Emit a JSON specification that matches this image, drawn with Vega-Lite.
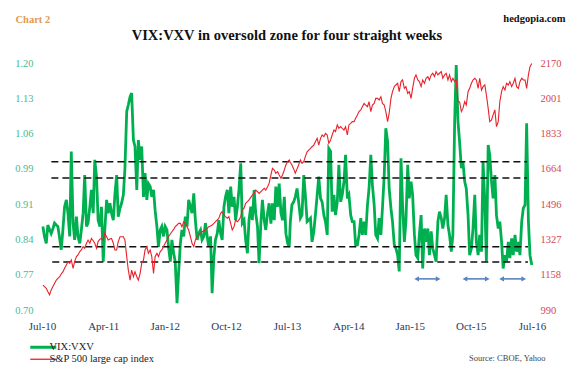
{
  "$schema": "https://vega.github.io/schema/vega-lite/v6.json",
  "width": 490,
  "height": 247,
  "autosize": {"type": "none"},
  "padding": {"left": 42, "top": 63, "right": 46, "bottom": 63},
  "background": "white",
  "title": {"text": "VIX:VXV in oversold zone for four straight weeks", "font": "Liberation Serif", "fontSize": 14.5, "fontWeight": "bold", "color": "#111111", "anchor": "middle", "offset": -30},
  "config": {"view": {"stroke": null}, "axis": {"labelOverlap": false}, "axisY": {"labelOverlap": false}, "axisLeft": {"labelOverlap": false}},
  "datasets": {
    "weekly": [
      {"date":"2010-07-05","vix":0.869,"spx":1109},{"date":"2010-07-12","vix":0.849,"spx":1102},{"date":"2010-07-20","vix":0.835,"spx":1094},{"date":"2010-07-27","vix":0.872,"spx":1078},{"date":"2010-08-04","vix":0.863,"spx":1062},{"date":"2010-08-11","vix":0.855,"spx":1086},{"date":"2010-08-19","vix":0.865,"spx":1102},{"date":"2010-08-26","vix":0.876,"spx":1117},{"date":"2010-09-03","vix":0.872,"spx":1133},{"date":"2010-09-10","vix":0.869,"spx":1141},
      {"date":"2010-09-18","vix":0.845,"spx":1149},{"date":"2010-09-25","vix":0.822,"spx":1162},{"date":"2010-10-03","vix":0.865,"spx":1173},{"date":"2010-10-10","vix":0.909,"spx":1189},{"date":"2010-10-18","vix":0.923,"spx":1205},{"date":"2010-10-25","vix":0.896,"spx":1221},{"date":"2010-11-02","vix":0.849,"spx":1213},{"date":"2010-11-09","vix":1.021,"spx":1229},{"date":"2010-11-17","vix":0.876,"spx":1189},{"date":"2010-11-24","vix":0.842,"spx":1221},
      {"date":"2010-12-02","vix":0.889,"spx":1245},{"date":"2010-12-09","vix":0.849,"spx":1253},{"date":"2010-12-17","vix":0.835,"spx":1269},{"date":"2010-12-24","vix":0.862,"spx":1277},{"date":"2011-01-01","vix":0.896,"spx":1293},{"date":"2011-01-08","vix":0.973,"spx":1285},{"date":"2011-01-16","vix":0.869,"spx":1309},{"date":"2011-01-23","vix":0.876,"spx":1324},{"date":"2011-01-31","vix":0.909,"spx":1309},{"date":"2011-02-07","vix":0.943,"spx":1332},
      {"date":"2011-02-15","vix":0.896,"spx":1321},{"date":"2011-02-22","vix":1.004,"spx":1309},{"date":"2011-03-02","vix":0.970,"spx":1285},{"date":"2011-03-09","vix":0.882,"spx":1317},{"date":"2011-03-17","vix":0.869,"spx":1328},{"date":"2011-03-24","vix":0.909,"spx":1332},{"date":"2011-04-01","vix":0.798,"spx":1324},{"date":"2011-04-08","vix":0.862,"spx":1356},{"date":"2011-04-16","vix":0.923,"spx":1340},{"date":"2011-04-23","vix":0.896,"spx":1324},
      {"date":"2011-05-01","vix":0.916,"spx":1329},{"date":"2011-05-08","vix":0.896,"spx":1332},{"date":"2011-05-16","vix":0.882,"spx":1309},{"date":"2011-05-23","vix":0.933,"spx":1277},{"date":"2011-05-31","vix":0.973,"spx":1277},{"date":"2011-06-07","vix":0.889,"spx":1317},{"date":"2011-06-15","vix":0.906,"spx":1340},{"date":"2011-06-22","vix":0.916,"spx":1340},{"date":"2011-06-30","vix":0.933,"spx":1340},{"date":"2011-07-07","vix":0.987,"spx":1324},
      {"date":"2011-07-15","vix":1.102,"spx":1245},{"date":"2011-07-22","vix":1.115,"spx":1181},{"date":"2011-07-30","vix":1.132,"spx":1133},{"date":"2011-08-06","vix":1.139,"spx":1181},{"date":"2011-08-14","vix":1.044,"spx":1149},{"date":"2011-08-21","vix":1.031,"spx":1173},{"date":"2011-08-29","vix":0.943,"spx":1149},{"date":"2011-09-05","vix":1.044,"spx":1133},{"date":"2011-09-13","vix":1.004,"spx":1165},{"date":"2011-09-20","vix":1.031,"spx":1213},
      {"date":"2011-09-28","vix":0.929,"spx":1229},{"date":"2011-10-05","vix":0.977,"spx":1277},{"date":"2011-10-13","vix":0.923,"spx":1293},{"date":"2011-10-20","vix":0.956,"spx":1261},{"date":"2011-10-28","vix":0.950,"spx":1277},{"date":"2011-11-04","vix":0.929,"spx":1245},{"date":"2011-11-12","vix":0.943,"spx":1165},{"date":"2011-11-19","vix":0.902,"spx":1245},{"date":"2011-11-27","vix":0.869,"spx":1261},{"date":"2011-12-04","vix":0.828,"spx":1245},
      {"date":"2011-12-12","vix":0.862,"spx":1269},{"date":"2011-12-19","vix":0.869,"spx":1277},{"date":"2011-12-27","vix":0.849,"spx":1293},{"date":"2012-01-03","vix":0.869,"spx":1309},{"date":"2012-01-11","vix":0.862,"spx":1324},{"date":"2012-01-18","vix":0.828,"spx":1340},{"date":"2012-01-26","vix":0.798,"spx":1353},{"date":"2012-02-02","vix":0.842,"spx":1364},{"date":"2012-02-10","vix":0.815,"spx":1375},{"date":"2012-02-17","vix":0.798,"spx":1388},
      {"date":"2012-02-25","vix":0.714,"spx":1396},{"date":"2012-03-03","vix":0.774,"spx":1404},{"date":"2012-03-11","vix":0.835,"spx":1404},{"date":"2012-03-18","vix":0.862,"spx":1388},{"date":"2012-03-26","vix":0.849,"spx":1412},{"date":"2012-04-02","vix":0.889,"spx":1404},{"date":"2012-04-10","vix":0.869,"spx":1388},{"date":"2012-04-17","vix":0.923,"spx":1372},{"date":"2012-04-25","vix":0.909,"spx":1340},{"date":"2012-05-02","vix":0.896,"spx":1309},
      {"date":"2012-05-10","vix":0.936,"spx":1293},{"date":"2012-05-17","vix":0.882,"spx":1324},{"date":"2012-05-25","vix":0.842,"spx":1340},{"date":"2012-06-01","vix":0.855,"spx":1348},{"date":"2012-06-09","vix":0.862,"spx":1356},{"date":"2012-06-16","vix":0.842,"spx":1364},{"date":"2012-06-24","vix":0.849,"spx":1369},{"date":"2012-07-01","vix":0.876,"spx":1372},{"date":"2012-07-09","vix":0.849,"spx":1380},{"date":"2012-07-16","vix":0.828,"spx":1388},
      {"date":"2012-07-24","vix":0.849,"spx":1391},{"date":"2012-07-31","vix":0.734,"spx":1396},{"date":"2012-08-08","vix":0.808,"spx":1404},{"date":"2012-08-15","vix":0.842,"spx":1412},{"date":"2012-08-23","vix":0.855,"spx":1420},{"date":"2012-08-30","vix":0.882,"spx":1428},{"date":"2012-09-07","vix":0.855,"spx":1452},{"date":"2012-09-14","vix":0.842,"spx":1460},{"date":"2012-09-22","vix":0.909,"spx":1444},{"date":"2012-09-29","vix":0.929,"spx":1436},
      {"date":"2012-10-07","vix":0.943,"spx":1428},{"date":"2012-10-14","vix":0.896,"spx":1436},{"date":"2012-10-22","vix":0.950,"spx":1404},{"date":"2012-10-29","vix":0.909,"spx":1372},{"date":"2012-11-06","vix":0.929,"spx":1388},{"date":"2012-11-13","vix":0.882,"spx":1420},{"date":"2012-11-21","vix":0.909,"spx":1412},{"date":"2012-11-28","vix":0.943,"spx":1420},{"date":"2012-12-06","vix":0.997,"spx":1436},{"date":"2012-12-13","vix":0.876,"spx":1468},
      {"date":"2012-12-21","vix":0.882,"spx":1476},{"date":"2012-12-28","vix":0.842,"spx":1500},{"date":"2013-01-05","vix":0.815,"spx":1508},{"date":"2013-01-12","vix":0.882,"spx":1516},{"date":"2013-01-20","vix":0.909,"spx":1528},{"date":"2013-01-27","vix":0.882,"spx":1539},{"date":"2013-02-04","vix":0.943,"spx":1547},{"date":"2013-02-11","vix":0.896,"spx":1563},{"date":"2013-02-19","vix":0.869,"spx":1555},{"date":"2013-02-26","vix":0.795,"spx":1547},
      {"date":"2013-03-06","vix":0.875,"spx":1555},{"date":"2013-03-13","vix":0.923,"spx":1563},{"date":"2013-03-21","vix":0.882,"spx":1571},{"date":"2013-03-28","vix":0.862,"spx":1563},{"date":"2013-04-05","vix":0.896,"spx":1579},{"date":"2013-04-12","vix":0.916,"spx":1595},{"date":"2013-04-20","vix":0.875,"spx":1635},{"date":"2013-04-27","vix":0.916,"spx":1667},{"date":"2013-05-05","vix":0.882,"spx":1659},{"date":"2013-05-12","vix":0.950,"spx":1643},
      {"date":"2013-05-20","vix":0.909,"spx":1651},{"date":"2013-05-27","vix":0.956,"spx":1635},{"date":"2013-06-04","vix":0.896,"spx":1619},{"date":"2013-06-11","vix":0.882,"spx":1635},{"date":"2013-06-19","vix":0.929,"spx":1659},{"date":"2013-06-26","vix":0.855,"spx":1683},{"date":"2013-07-04","vix":0.835,"spx":1699},{"date":"2013-07-11","vix":0.828,"spx":1707},
      {"date":"2013-07-16","vix":0.879,"spx":1695},{"date":"2013-07-23","vix":0.913,"spx":1683},{"date":"2013-07-31","vix":0.919,"spx":1664},{"date":"2013-08-07","vix":0.929,"spx":1643},{"date":"2013-08-15","vix":0.946,"spx":1664},{"date":"2013-08-22","vix":0.919,"spx":1683},{"date":"2013-08-30","vix":0.886,"spx":1707},{"date":"2013-09-06","vix":0.892,"spx":1691},{"date":"2013-09-14","vix":0.973,"spx":1699},{"date":"2013-09-21","vix":0.933,"spx":1723},
      {"date":"2013-09-29","vix":0.879,"spx":1746},{"date":"2013-10-06","vix":0.882,"spx":1754},{"date":"2013-10-14","vix":0.886,"spx":1762},{"date":"2013-10-21","vix":0.838,"spx":1770},{"date":"2013-10-29","vix":0.859,"spx":1778},{"date":"2013-11-05","vix":0.892,"spx":1794},{"date":"2013-11-13","vix":0.933,"spx":1810},{"date":"2013-11-20","vix":0.970,"spx":1778},{"date":"2013-11-28","vix":0.926,"spx":1810},{"date":"2013-12-05","vix":0.919,"spx":1826},
      {"date":"2013-12-13","vix":0.892,"spx":1818},{"date":"2013-12-20","vix":0.879,"spx":1834},{"date":"2013-12-28","vix":0.852,"spx":1826},{"date":"2014-01-04","vix":1.027,"spx":1786},{"date":"2014-01-12","vix":1.021,"spx":1802},{"date":"2014-01-19","vix":0.899,"spx":1826},{"date":"2014-01-27","vix":0.933,"spx":1850},{"date":"2014-02-03","vix":0.892,"spx":1842},{"date":"2014-02-11","vix":0.919,"spx":1874},{"date":"2014-02-18","vix":0.994,"spx":1858},
      {"date":"2014-02-26","vix":0.919,"spx":1866},{"date":"2014-03-05","vix":0.933,"spx":1858},{"date":"2014-03-13","vix":0.960,"spx":1850},{"date":"2014-03-20","vix":1.014,"spx":1866},{"date":"2014-03-28","vix":0.926,"spx":1826},{"date":"2014-04-04","vix":0.933,"spx":1874},{"date":"2014-04-12","vix":0.892,"spx":1882},{"date":"2014-04-19","vix":0.879,"spx":1890},{"date":"2014-04-27","vix":0.879,"spx":1890},{"date":"2014-05-04","vix":0.832,"spx":1906},
      {"date":"2014-05-12","vix":0.832,"spx":1922},{"date":"2014-05-19","vix":0.852,"spx":1938},{"date":"2014-05-27","vix":0.886,"spx":1946},{"date":"2014-06-03","vix":0.852,"spx":1961},{"date":"2014-06-11","vix":0.879,"spx":1977},{"date":"2014-06-18","vix":0.852,"spx":1969},{"date":"2014-06-26","vix":0.913,"spx":1961},{"date":"2014-07-03","vix":0.946,"spx":1985},{"date":"2014-07-11","vix":1.014,"spx":1938},{"date":"2014-07-18","vix":0.953,"spx":1969},
      {"date":"2014-07-26","vix":0.913,"spx":1977},{"date":"2014-08-02","vix":0.852,"spx":2001},{"date":"2014-08-10","vix":0.845,"spx":2001},{"date":"2014-08-17","vix":0.886,"spx":1993},{"date":"2014-08-25","vix":0.852,"spx":2009},{"date":"2014-09-01","vix":0.906,"spx":1977},{"date":"2014-09-09","vix":0.973,"spx":1969},{"date":"2014-09-16","vix":1.068,"spx":1938},{"date":"2014-09-24","vix":1.041,"spx":1890},{"date":"2014-10-01","vix":0.946,"spx":1930},
      {"date":"2014-10-09","vix":0.906,"spx":2001},{"date":"2014-10-16","vix":0.879,"spx":2033},{"date":"2014-10-24","vix":0.832,"spx":2057},{"date":"2014-10-31","vix":0.825,"spx":2065},{"date":"2014-11-08","vix":0.811,"spx":2073},{"date":"2014-11-15","vix":0.778,"spx":2033},{"date":"2014-11-23","vix":1.007,"spx":2081},{"date":"2014-11-30","vix":0.913,"spx":2089},{"date":"2014-12-08","vix":0.838,"spx":2049},{"date":"2014-12-15","vix":0.879,"spx":2057},
      {"date":"2014-12-23","vix":0.994,"spx":2025},{"date":"2014-12-30","vix":0.926,"spx":2033},{"date":"2015-01-07","vix":0.960,"spx":2001},{"date":"2015-01-14","vix":0.933,"spx":2049},{"date":"2015-01-22","vix":0.852,"spx":2097},{"date":"2015-01-29","vix":0.811,"spx":2113},{"date":"2015-02-06","vix":0.805,"spx":2089},{"date":"2015-02-13","vix":0.852,"spx":2081},{"date":"2015-02-21","vix":0.892,"spx":2057},{"date":"2015-02-28","vix":0.784,"spx":2089},
      {"date":"2015-03-08","vix":0.865,"spx":2073},{"date":"2015-03-15","vix":0.838,"spx":2097},{"date":"2015-03-23","vix":0.865,"spx":2105},{"date":"2015-03-30","vix":0.811,"spx":2089},{"date":"2015-04-07","vix":0.859,"spx":2113},{"date":"2015-04-14","vix":0.825,"spx":2121},{"date":"2015-04-22","vix":0.811,"spx":2105},{"date":"2015-04-29","vix":0.798,"spx":2129},{"date":"2015-05-07","vix":0.879,"spx":2113},{"date":"2015-05-14","vix":0.899,"spx":2121},
      {"date":"2015-05-22","vix":0.886,"spx":2129},{"date":"2015-05-29","vix":0.865,"spx":2097},{"date":"2015-06-06","vix":0.886,"spx":2113},{"date":"2015-06-13","vix":0.933,"spx":2121},{"date":"2015-06-21","vix":0.872,"spx":2089},{"date":"2015-06-28","vix":0.852,"spx":2113},{"date":"2015-07-06","vix":0.818,"spx":2081},{"date":"2015-07-13","vix":0.852,"spx":2097},{"date":"2015-07-21","vix":1.081,"spx":2081},{"date":"2015-07-28","vix":1.196,"spx":2089},
      {"date":"2015-08-05","vix":1.081,"spx":1985},{"date":"2015-08-12","vix":1.041,"spx":1985},{"date":"2015-08-20","vix":0.987,"spx":1938},{"date":"2015-08-27","vix":1.000,"spx":1953},{"date":"2015-09-04","vix":0.960,"spx":1985},{"date":"2015-09-11","vix":0.946,"spx":1969},{"date":"2015-09-19","vix":0.892,"spx":2033},{"date":"2015-09-26","vix":0.811,"spx":2049},{"date":"2015-10-04","vix":0.825,"spx":2073},{"date":"2015-10-11","vix":0.865,"spx":2089},
      {"date":"2015-10-19","vix":0.933,"spx":2097},{"date":"2015-10-26","vix":0.838,"spx":2089},{"date":"2015-11-03","vix":0.811,"spx":2049},{"date":"2015-11-10","vix":0.852,"spx":2097},{"date":"2015-11-18","vix":0.818,"spx":2041},{"date":"2015-11-25","vix":1.000,"spx":2057},{"date":"2015-12-03","vix":0.919,"spx":2065},{"date":"2015-12-10","vix":0.798,"spx":2017},{"date":"2015-12-18","vix":1.034,"spx":1953},{"date":"2015-12-25","vix":1.014,"spx":1890},
      {"date":"2016-01-02","vix":0.960,"spx":1898},{"date":"2016-01-09","vix":0.926,"spx":1922},{"date":"2016-01-17","vix":0.973,"spx":1946},{"date":"2016-01-24","vix":0.892,"spx":1866},{"date":"2016-02-01","vix":0.865,"spx":1890},{"date":"2016-02-08","vix":0.879,"spx":1985},{"date":"2016-02-16","vix":0.838,"spx":2033},{"date":"2016-02-23","vix":0.784,"spx":2057},{"date":"2016-03-02","vix":0.811,"spx":2041},{"date":"2016-03-09","vix":0.798,"spx":2073},
      {"date":"2016-03-17","vix":0.838,"spx":2065},{"date":"2016-03-24","vix":0.805,"spx":2081},{"date":"2016-04-01","vix":0.845,"spx":2057},{"date":"2016-04-08","vix":0.811,"spx":2073},{"date":"2016-04-16","vix":0.852,"spx":2097},{"date":"2016-04-23","vix":0.818,"spx":2057},{"date":"2016-05-01","vix":0.838,"spx":2049},{"date":"2016-05-08","vix":0.811,"spx":2081},{"date":"2016-05-16","vix":0.879,"spx":2097},{"date":"2016-05-23","vix":0.906,"spx":2089},
      {"date":"2016-05-31","vix":0.913,"spx":2089},{"date":"2016-06-07","vix":1.078,"spx":2049},{"date":"2016-06-15","vix":0.879,"spx":2113},{"date":"2016-06-22","vix":0.811,"spx":2152},{"date":"2016-06-30","vix":0.791,"spx":2168}
    ],
    "levels": [
      {"start":"2010-08-12","end":"2016-06-08","level":1.0},
      {"start":"2010-08-12","end":"2016-06-08","level":0.967},
      {"start":"2010-08-16","end":"2016-06-13","level":0.828},
      {"start":"2010-08-16","end":"2016-06-13","level":0.797}
    ],
    "spans": [
      {"start":"2015-02-01","end":"2015-05-08","y":0.763},
      {"start":"2015-09-05","end":"2015-12-14","y":0.763},
      {"start":"2016-02-16","end":"2016-05-25","y":0.763}
    ]
  },
  "layer": [
    {
      "layer": [
        {
          "data": {"name": "weekly"},
          "mark": {"type": "line", "strokeWidth": 2.8, "interpolate": "linear"},
          "encoding": {
            "x": {"field": "date", "type": "temporal",
                  "scale": {"type": "utc", "domain": [{"year": 2010, "month": 7, "date": 1, "utc": true}, {"year": 2016, "month": 7, "date": 1, "utc": true}]},
                  "axis": {"values": [
                    {"year": 2010, "month": 7, "date": 1, "utc": true},
                    {"year": 2011, "month": 4, "date": 1, "utc": true},
                    {"year": 2012, "month": 1, "date": 1, "utc": true},
                    {"year": 2012, "month": 10, "date": 1, "utc": true},
                    {"year": 2013, "month": 7, "date": 1, "utc": true},
                    {"year": 2014, "month": 4, "date": 1, "utc": true},
                    {"year": 2015, "month": 1, "date": 1, "utc": true},
                    {"year": 2015, "month": 10, "date": 1, "utc": true},
                    {"year": 2016, "month": 7, "date": 1, "utc": true}],
                    "format": "%b-%y", "labelFont": "Liberation Serif", "labelFontSize": 11, "labelColor": "#2c3a55",
                    "labelFlush": false, "labelOverlap": false, "ticks": false, "domain": false, "grid": false, "labelPadding": 10,
                    "title": "Source: CBOE, Yahoo", "titleFont": "Liberation Serif", "titleFontSize": 8.5, "titleFontWeight": "normal",
                    "titleColor": "#444444", "titleAnchor": null, "titleX": 503, "titleY": 47, "titleAlign": "right", "titleBaseline": "middle"}},
            "y": {"field": "vix", "type": "quantitative",
                  "scale": {"domain": [0.7, 1.2], "nice": false, "zero": false},
                  "axis": {"values": [0.7, 0.7714286, 0.8428571, 0.9142857, 0.9857143, 1.0571429, 1.1285714, 1.2],
                    "format": ".2f", "labelFont": "Liberation Serif", "labelFontSize": 10.5, "labelColor": "#4db892",
                    "labelOverlap": false, "labelBound": false,
                    "ticks": false, "domain": false, "grid": false, "labelPadding": 9,
                    "title": "Chart 2", "titleFont": "Liberation Serif", "titleFontSize": 10.5, "titleFontWeight": "bold",
                    "titleColor": "#e39a52", "titleAngle": 0, "titleX": -27, "titleY": -44, "titleAlign": "left", "titleBaseline": "middle"}},
            "color": {"datum": "VIX:VXV", "type": "nominal",
                      "scale": {"domain": ["VIX:VXV", "S&P 500 large cap index"], "range": ["#00b050", "#e8212b"]},
                      "legend": {"orient": "none", "legendX": -4, "legendY": 279, "title": null, "symbolType": "stroke",
                                 "symbolSize": 676, "symbolStrokeWidth": 2, "labelFont": "Liberation Serif", "labelFontSize": 10.5,
                                 "labelColor": "#222222", "labelOffset": 1, "rowPadding": 0, "labelLimit": 300,
                                 "encode": {"symbols": {"update": {"strokeWidth": {"signal": "datum.value === 'VIX:VXV' ? 3 : 1.3"}}}}}}
          }
        },
        {
          "data": {"name": "levels"},
          "mark": {"type": "rule", "color": "#111111", "strokeWidth": 1.5, "strokeDash": [7, 4]},
          "encoding": {
            "x": {"field": "start", "type": "temporal", "scale": {"type": "utc", "domain": [{"year": 2010, "month": 7, "date": 1, "utc": true}, {"year": 2016, "month": 7, "date": 1, "utc": true}]}},
            "x2": {"field": "end"},
            "y": {"field": "level", "type": "quantitative", "scale": {"domain": [0.7, 1.2], "nice": false, "zero": false},
                  "axis": {"values": [0.7, 0.7714286, 0.8428571, 0.9142857, 0.9857143, 1.0571429, 1.1285714, 1.2],
                    "format": ".2f", "labelFont": "Liberation Serif", "labelFontSize": 10.5, "labelColor": "#4db892",
                    "labelOverlap": false, "labelBound": false,
                    "ticks": false, "domain": false, "grid": false, "labelPadding": 9,
                    "title": "Chart 2", "titleFont": "Liberation Serif", "titleFontSize": 10.5, "titleFontWeight": "bold",
                    "titleColor": "#e39a52", "titleAngle": 0, "titleX": -27, "titleY": -44, "titleAlign": "left", "titleBaseline": "middle"}}
          }
        },
        {
          "data": {"name": "spans"},
          "mark": {"type": "rule", "color": "#5a84bf", "strokeWidth": 1.6},
          "encoding": {
            "x": {"field": "start", "type": "temporal", "scale": {"type": "utc", "domain": [{"year": 2010, "month": 7, "date": 1, "utc": true}, {"year": 2016, "month": 7, "date": 1, "utc": true}]}},
            "x2": {"field": "end"},
            "y": {"field": "y", "type": "quantitative", "scale": {"domain": [0.7, 1.2], "nice": false, "zero": false},
                  "axis": {"values": [0.7, 0.7714286, 0.8428571, 0.9142857, 0.9857143, 1.0571429, 1.1285714, 1.2],
                    "format": ".2f", "labelFont": "Liberation Serif", "labelFontSize": 10.5, "labelColor": "#4db892",
                    "labelOverlap": false, "labelBound": false,
                    "ticks": false, "domain": false, "grid": false, "labelPadding": 9,
                    "title": "Chart 2", "titleFont": "Liberation Serif", "titleFontSize": 10.5, "titleFontWeight": "bold",
                    "titleColor": "#e39a52", "titleAngle": 0, "titleX": -27, "titleY": -44, "titleAlign": "left", "titleBaseline": "middle"}}
          }
        },
        {
          "data": {"name": "spans"},
          "mark": {"type": "point", "shape": "triangle-left", "filled": true, "color": "#5a84bf", "size": 30, "opacity": 1},
          "encoding": {
            "x": {"field": "start", "type": "temporal", "scale": {"type": "utc", "domain": [{"year": 2010, "month": 7, "date": 1, "utc": true}, {"year": 2016, "month": 7, "date": 1, "utc": true}]}},
            "y": {"field": "y", "type": "quantitative", "scale": {"domain": [0.7, 1.2], "nice": false, "zero": false},
                  "axis": {"values": [0.7, 0.7714286, 0.8428571, 0.9142857, 0.9857143, 1.0571429, 1.1285714, 1.2],
                    "format": ".2f", "labelFont": "Liberation Serif", "labelFontSize": 10.5, "labelColor": "#4db892",
                    "labelOverlap": false, "labelBound": false,
                    "ticks": false, "domain": false, "grid": false, "labelPadding": 9,
                    "title": "Chart 2", "titleFont": "Liberation Serif", "titleFontSize": 10.5, "titleFontWeight": "bold",
                    "titleColor": "#e39a52", "titleAngle": 0, "titleX": -27, "titleY": -44, "titleAlign": "left", "titleBaseline": "middle"}}
          }
        },
        {
          "data": {"name": "spans"},
          "mark": {"type": "point", "shape": "triangle-right", "filled": true, "color": "#5a84bf", "size": 30, "opacity": 1},
          "encoding": {
            "x": {"field": "end", "type": "temporal", "scale": {"type": "utc", "domain": [{"year": 2010, "month": 7, "date": 1, "utc": true}, {"year": 2016, "month": 7, "date": 1, "utc": true}]}},
            "y": {"field": "y", "type": "quantitative", "scale": {"domain": [0.7, 1.2], "nice": false, "zero": false},
                  "axis": {"values": [0.7, 0.7714286, 0.8428571, 0.9142857, 0.9857143, 1.0571429, 1.1285714, 1.2],
                    "format": ".2f", "labelFont": "Liberation Serif", "labelFontSize": 10.5, "labelColor": "#4db892",
                    "labelOverlap": false, "labelBound": false,
                    "ticks": false, "domain": false, "grid": false, "labelPadding": 9,
                    "title": "Chart 2", "titleFont": "Liberation Serif", "titleFontSize": 10.5, "titleFontWeight": "bold",
                    "titleColor": "#e39a52", "titleAngle": 0, "titleX": -27, "titleY": -44, "titleAlign": "left", "titleBaseline": "middle"}}
          }
        }
      ]
    },
    {
      "data": {"name": "weekly"},
      "mark": {"type": "line", "strokeWidth": 1.1},
      "encoding": {
        "x": {"field": "date", "type": "temporal", "scale": {"type": "utc", "domain": [{"year": 2010, "month": 7, "date": 1, "utc": true}, {"year": 2016, "month": 7, "date": 1, "utc": true}]}},
        "y": {"field": "spx", "type": "quantitative",
              "scale": {"domain": [990, 2170], "nice": false, "zero": false},
              "axis": {"orient": "right", "values": [990, 1158, 1327, 1496, 1664, 1833, 2001, 2170], "format": "d",
                "labelFont": "Liberation Serif", "labelFontSize": 10.5, "labelColor": "#d4485a",
                "labelOverlap": false, "labelBound": false,
                "ticks": false, "domain": false, "grid": false, "labelPadding": 8,
                "title": "hedgopia.com", "titleFont": "Liberation Serif", "titleFontSize": 10.5, "titleFontWeight": "bold",
                "titleColor": "#111111", "titleAngle": 0, "titleX": 33, "titleY": -45, "titleAlign": "right", "titleBaseline": "middle"}},
        "color": {"datum": "S&P 500 large cap index", "type": "nominal"}
      }
    }
  ],
  "resolve": {"scale": {"y": "independent"}}
}
